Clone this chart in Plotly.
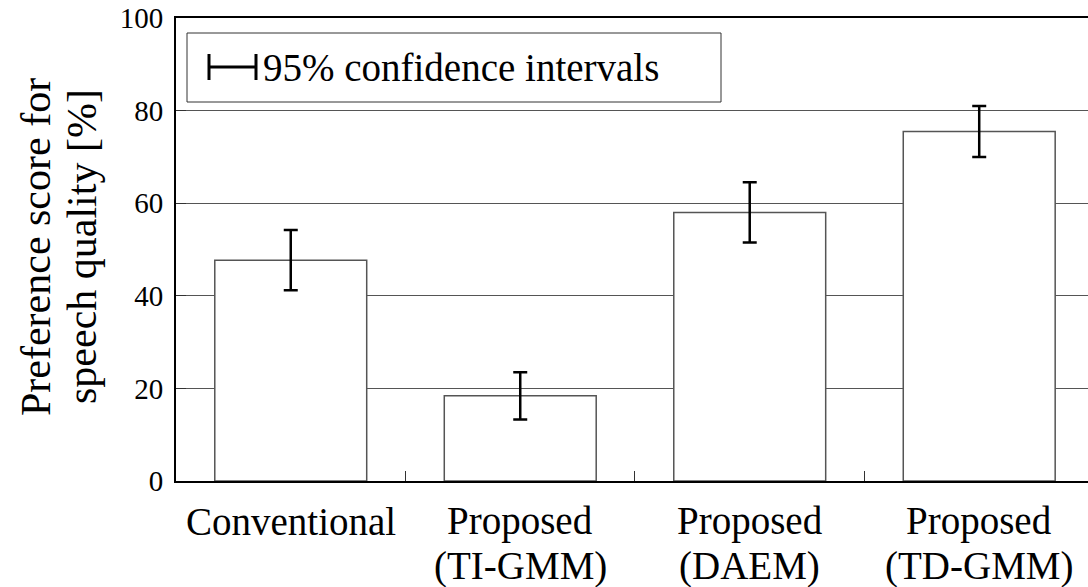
import plotly.graph_objects as go

categories = ["Conventional", "Proposed (TI-GMM)", "Proposed (DAEM)", "Proposed (TD-GMM)"]
label_line1 = ["Conventional", "Proposed", "Proposed", "Proposed"]
label_line2 = ["", "(TI-GMM)", "(DAEM)", "(TD-GMM)"]
scores = [47.7, 18.4, 58.0, 75.5]
ci_half = [6.5, 5.1, 6.5, 5.5]
y_ticks = [0, 20, 40, 60, 80, 100]

FONT = "Times New Roman, Liberation Serif, serif"
W, H = 1088, 587
ML, MT, MB, MR = 176, 18, 106, 0
PW, PH = W - ML - MR, H - MT - MB

def px(x):
    return (x - ML) / PW

def py(y):
    return (H - MB - y) / PH

fig = go.Figure()
fig.add_trace(go.Bar(
    x=categories, y=scores, width=0.662,
    marker=dict(color="white", line=dict(color="#555555", width=1.5)),
    error_y=dict(type="data", array=ci_half, visible=True, color="black", thickness=2.5, width=7),
    showlegend=False,
))

annotations = [
    dict(text="95% confidence intervals", xref="paper", yref="paper", x=px(261), y=py(68),
         xanchor="left", yanchor="middle", showarrow=False, font=dict(size=39, family=FONT)),
    dict(text="Preference score for", xref="paper", yref="paper", x=px(36), y=py(247),
         xanchor="center", yanchor="middle", textangle=-90, showarrow=False, font=dict(size=42, family=FONT)),
    dict(text="speech quality [%]", xref="paper", yref="paper", x=px(82), y=py(247),
         xanchor="center", yanchor="middle", textangle=-90, showarrow=False, font=dict(size=42, family=FONT)),
]
for cat, l1, l2 in zip(categories, label_line1, label_line2):
    annotations.append(dict(text=l1, xref="x", yref="paper", x=cat, y=py(521),
                            xanchor="center", yanchor="middle", showarrow=False,
                            font=dict(size=39, family=FONT)))
    if l2:
        annotations.append(dict(text=l2, xref="x", yref="paper", x=cat, y=py(566),
                                xanchor="center", yanchor="middle", showarrow=False,
                                font=dict(size=39, family=FONT)))

fig.update_layout(
    width=W, height=H,
    margin=dict(l=ML, r=MR, t=MT, b=MB),
    paper_bgcolor="white", plot_bgcolor="white",
    font=dict(family=FONT, color="black"),
    xaxis=dict(
        type="category", range=[-0.5, 3.474], tickson="boundaries",
        ticks="inside", ticklen=10, tickcolor="#333", tickwidth=1,
        showline=True, linecolor="black", linewidth=2, mirror=True,
        showgrid=False, showticklabels=False,
    ),
    yaxis=dict(
        range=[0, 100], tickvals=y_ticks, ticks="inside", ticklen=10, tickcolor="#333",
        showline=True, linecolor="black", linewidth=2, mirror=False,
        showgrid=True, gridcolor="#555555", gridwidth=1,
        tickfont=dict(size=29, family=FONT), zeroline=False,
        ticklabelstandoff=5,
    ),
    shapes=[
        dict(type="rect", xref="paper", yref="paper", x0=px(187), x1=px(721), y0=py(102), y1=py(33),
             line=dict(color="#333", width=1), fillcolor="white", layer="above"),
        dict(type="line", xref="paper", yref="paper", x0=px(208), x1=px(257), y0=py(67), y1=py(67),
             line=dict(color="black", width=3)),
        dict(type="line", xref="paper", yref="paper", x0=px(209), x1=px(209), y0=py(54), y1=py(80),
             line=dict(color="black", width=3)),
        dict(type="line", xref="paper", yref="paper", x0=px(256), x1=px(256), y0=py(54), y1=py(80),
             line=dict(color="black", width=3)),
    ],
    annotations=annotations,
)

fig.write_html("out.html")
